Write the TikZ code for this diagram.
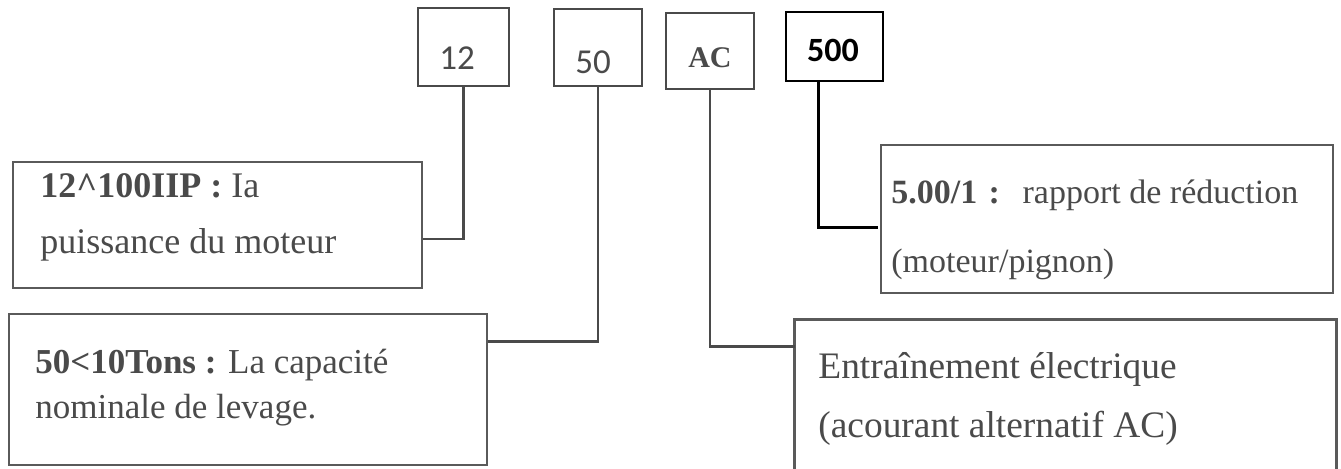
\documentclass[tikz,border=0pt]{standalone}
\usepackage{fontspec}
\setmainfont{Liberation Serif}
\newfontfamily\calibri{Carlito}
\usetikzlibrary{fit,calc}
\definecolor{ink}{HTML}{4A4A4A}
\definecolor{frame}{HTML}{5A5A5A}
\begin{document}
\begin{tikzpicture}[x=0.5pt,y=-0.5pt,
  topbox/.style={draw=ink, line width=1.4pt, inner sep=0pt},
  blackbox/.style={draw=black, line width=1pt, inner sep=0pt},
  lowbox/.style={draw=frame, line width=0.9pt, inner sep=0pt},
  conn/.style={draw=ink, line width=1.2pt},
  bconn/.style={draw=black, line width=1.5pt},
  txt/.style={anchor=base west, inner sep=0pt, text=ink, font=\fontsize{18}{20}\selectfont},
  txtb/.style={txt, font=\fontsize{17.5}{20}\selectfont},
  txtc/.style={txt, font=\fontsize{17}{20}\selectfont},
  txtd/.style={txt, font=\fontsize{18.7}{21}\selectfont},
  num/.style={inner sep=0pt, text=ink, font=\calibri\fontsize{17.5}{19}\selectfont}]
\useasboundingbox (0,0) rectangle (1341,468);
\clip (0,0) rectangle (1341,468);
\fill[white] (0,0) rectangle (1341,468);

% top boxes
\node[topbox, fit={(418,8) (509,86)}] (t12) {};
\node[topbox, fit={(554,9) (642,86)}] (t50) {};
\node[topbox, fit={(666,13) (754,89)}] (tAC) {};
\node[blackbox, fit={(786,12) (883,81)}] (t500) {};
\node[num] (n12) at (457,58.5) {12};
\node[num] (n50) at (593,62) {50};
\node[inner sep=0pt, text=ink, font=\bfseries\fontsize{15}{17}\selectfont] (nAC) at (710,58) {AC};
\node[inner sep=0pt, text=black, font=\calibri\bfseries\fontsize{17}{19}\selectfont] (n500) at (833,50) {500};

% lower boxes
\node[lowbox, fit={(13,162) (422,288)}] (b1) {};
\node[lowbox, fit={(9,314) (487,465)}] (b2) {};
\node[lowbox, fit={(881,145) (1333,293)}] (b3) {};
\node[inner sep=0pt, fit={(795,320) (1336,490)}] (b4) {};
\draw[frame, line width=1.3pt] (b4.south west) -- (b4.north west) -- (b4.north east) -- (b4.south east);

% texts
\node[txt] (l1a) at (40,197) {\textbf{12\textasciicircum100IIP :} Ia};
\node[txt] (l1b) at (40,253) {puissance du moteur};
\node[txtb] (l2a) at (35,373) {\textbf{50<10Tons :} La capacité};
\node[txtb] (l2b) at (35,418) {nominale de levage.};
\node[txtc] (l3a) at (891,203) {\textbf{5.00/1\,\,:}\,\, rapport de réduction};
\node[txtc] (l3b) at (891,272) {(moteur/pignon)};
\node[txtd] (l4a) at (818,378) {Entraînement électrique};
\node[txtd] (l4b) at (818,437) {(acourant alternatif AC)};

% connectors
\coordinate (k1) at ($(b1.north east)!0.61!(b1.south east)$);
\coordinate (k2) at ($(b2.north east)!0.185!(b2.south east)$);
\coordinate (k3) at ($(b4.north west)!0.158!(b4.south west)$);
\coordinate (k4) at ($(b3.north west)!0.554!(b3.south west)$);
\draw[conn] (t12.south) |- (k1);
\draw[conn] (t50.south) |- (k2);
\draw[conn] (tAC.south) |- (k3);
\draw[bconn] ([xshift=-8.25pt]t500.south) |- ([xshift=-1pt]k4);
\end{tikzpicture}
\end{document}
